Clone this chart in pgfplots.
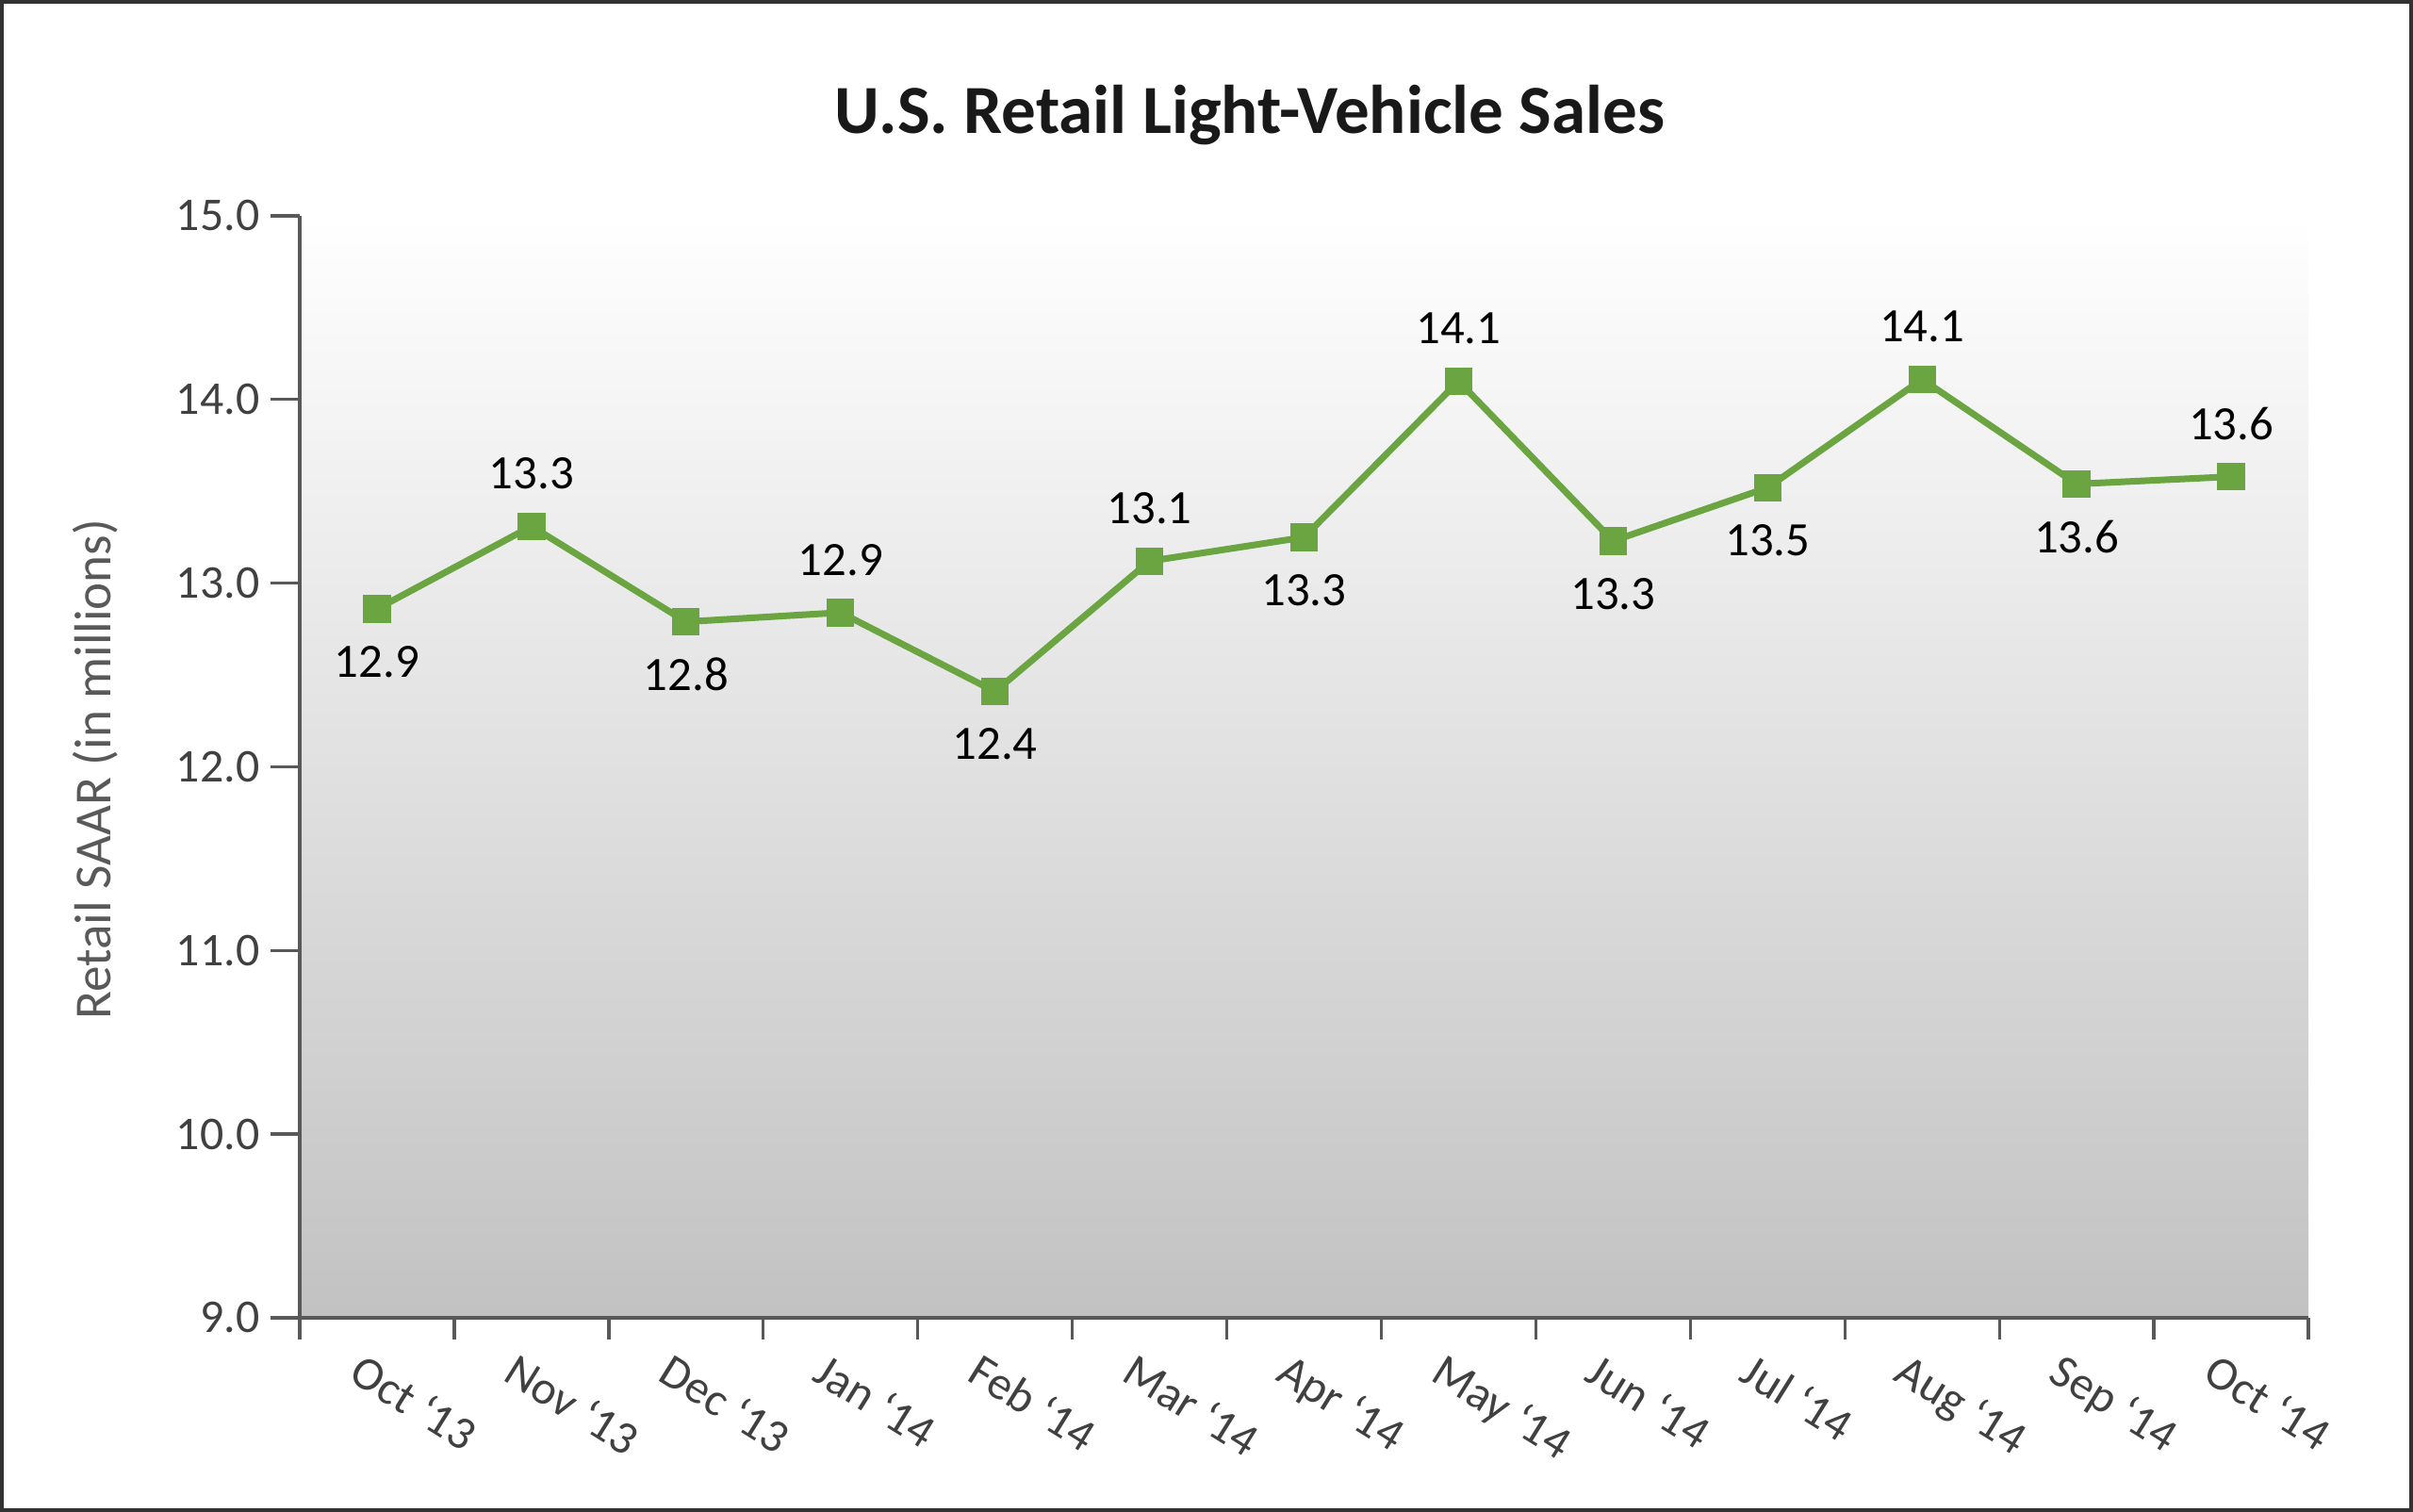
\documentclass[border=0pt]{standalone}
\usepackage{pgfplots}
\pgfplotsset{compat=1.18}
\usepackage{fontspec}
\setmainfont{Carlito}
\definecolor{lgreen}{HTML}{6AA541}
\definecolor{axgray}{HTML}{595959}
\definecolor{txtgray}{HTML}{404040}
\pgfplotstableread{
x y lab p
0 12.86 12.9 -1
1 13.31 13.3 1
2 12.79 12.8 -1
3 12.84 12.9 1
4 12.41 12.4 -1
5 13.12 13.1 1
6 13.25 13.3 -1
7 14.10 14.1 1
8 13.23 13.3 -1
9 13.52 13.5 -1
10 14.11 14.1 1
11 13.54 13.6 -1
12 13.58 13.6 1
}\datatable
\begin{document}
\begin{tikzpicture}
\useasboundingbox (-95.4bp,-61.8bp) rectangle (672.6bp,419.4bp);
\begin{axis}[
  width=639.3bp, height=350.7bp, scale only axis,
  xmin=-0.5, xmax=12.5, ymin=9, ymax=15,
  axis lines*=left,
  axis line style={draw=axgray, line width=1.3bp},
  xtick={0,...,12},
  xticklabels={Oct ‘13,Nov ‘13,Dec ‘13,Jan ‘14,Feb ‘14,Mar ‘14,Apr ‘14,May ‘14,Jun ‘14,Jul ‘14,Aug ‘14,Sep ‘14,Oct ‘14},
  minor xtick={-0.5,0.5,...,12.5},
  ytick={9,...,15},
  tick align=outside,
  major tick length=9.3bp, minor tick length=7bp,
  every tick/.append style={draw=axgray, line width=1bp},
  major x tick style={draw=none},
  /pgf/number format/assume math mode=true,
  yticklabel style={/pgf/number format/.cd, fixed, fixed zerofill, precision=1, /tikz/.cd, font=\fontsize{15}{18}\selectfont, text=txtgray},
  xticklabel style={rotate=-32, anchor=north west, xshift=-6bp, yshift=0.5bp, font=\fontsize{15}{18}\selectfont, text=txtgray},
  axis background/.style={top color=white, bottom color=black!24},
  clip=false,
]
\addplot[lgreen, line width=2.1bp, mark=square*,
  mark size=4.25bp, mark options={solid, fill=lgreen, draw=lgreen, line width=0pt},
  point meta=explicit symbolic,
  nodes near coords,
  visualization depends on={\thisrow{p} \as \lpos},
  every node near coord/.append style={anchor=center, yshift=\lpos*16.8bp, font=\fontsize{15.3}{18}\selectfont, text=black}
] table[x=x, y=y, meta=lab] {\datatable};
\end{axis}
\node[font=\bfseries\fontsize{22}{26}\selectfont, text=black!90] at (302.4bp,382.8bp) {U.S. Retail Light-Vehicle Sales};
\node[rotate=90, font=\fontsize{16.6}{19}\selectfont, text=axgray] at (-65.1bp,174.6bp) {Retail SAAR (in millions)};
\draw[line width=1.2bp, draw=black!80] (-94.8bp,-61.2bp) rectangle (672.0bp,418.8bp);
\end{tikzpicture}
\end{document}
